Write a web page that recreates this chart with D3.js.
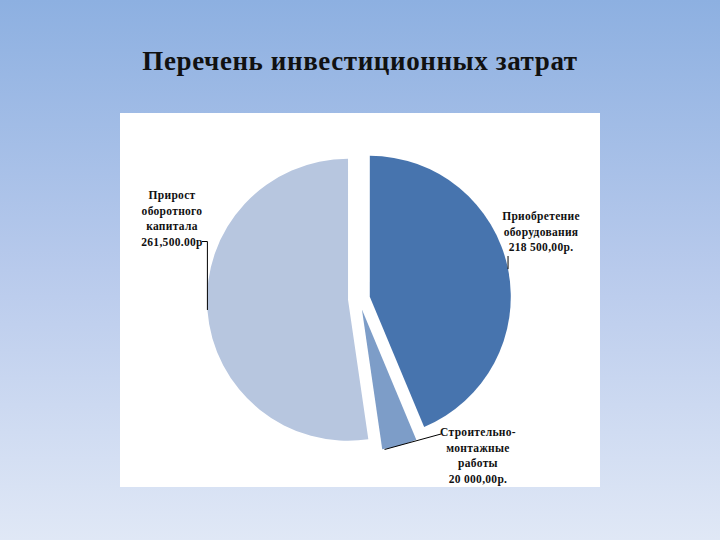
<!DOCTYPE html>
<html>
<head>
<meta charset="utf-8">
<script src="https://cdn.jsdelivr.net/npm/d3@7/dist/d3.min.js"></script>
<style>
  html, body { margin: 0; padding: 0; }
  body { width: 720px; height: 540px; overflow: hidden; }
  text { font-family: "Liberation Serif", "DejaVu Serif", serif; }
</style>
</head>
<body>
<script>
// data
const categories = ["Приобретение оборудования", "Строительно-монтажные работы", "Прирост оборотного капитала"]
const values = [218500, 20000, 261500]
const labelLines = [
    ["Приобретение", "оборудования", "218 500,00р."],
    ["Строительно-", "монтажные", "работы", "20 000,00р."],
    ["Прирост", "оборотного", "капитала", "261,500.00р"]
]
const colors = ["#4774ae", "#7d9dc8", "#b7c6df"]

const width = 720
const height = 540
const cx = 359
const cy = 299
const radius = 141
const explode = 11

const svg = d3.select("body")
    .append("svg")
    .attr("width", width)
    .attr("height", height)

const defs = svg.append("defs")
const grad = defs.append("linearGradient")
    .attr("id", "bg")
    .attr("x1", 0).attr("y1", 0).attr("x2", 0).attr("y2", 1)
grad.append("stop").attr("offset", "0%").attr("stop-color", "#8db0e1")
grad.append("stop").attr("offset", "50%").attr("stop-color", "#b8caec")
grad.append("stop").attr("offset", "100%").attr("stop-color", "#e0e8f6")

svg.append("rect")
    .attr("width", width)
    .attr("height", height)
    .attr("fill", "url(#bg)")

svg.append("text")
    .attr("x", 360)
    .attr("y", 70)
    .attr("text-anchor", "middle")
    .attr("font-size", 27)
    .attr("font-weight", "bold")
    .attr("letter-spacing", 0.6)
    .attr("fill", "#111")
    .text("Перечень инвестиционных затрат")

// white plot area
svg.append("rect")
    .attr("x", 120)
    .attr("y", 113)
    .attr("width", 480)
    .attr("height", 374)
    .attr("fill", "#ffffff")

const pie = d3.pie().sort(null).value(d => d)
const arcs = pie(values)
const arc = d3.arc().innerRadius(0).outerRadius(radius)

function offset(d, r) {
    const a = (d.startAngle + d.endAngle) / 2
    return [Math.sin(a) * r, -Math.cos(a) * r]
}

const g = svg.append("g").attr("transform", `translate(${cx},${cy})`)

g.selectAll("path")
    .data(arcs)
    .enter()
    .append("path")
    .attr("d", arc)
    .attr("fill", (d, i) => colors[i])
    .attr("transform", d => {
        const o = offset(d, explode)
        return `translate(${o[0]},${o[1]})`
    })

// label positions (center x, first baseline y)
const labelPos = [[541, 220], [478, 436], [172, 199]]
const lineH = 15.5

arcs.forEach((d, i) => {
    const o = offset(d, explode)
    const e = offset(d, radius)
    const px = cx + o[0] + e[0]
    const py = cy + o[1] + e[1]
    const [lx, ly] = labelPos[i]
    const n = labelLines[i].length
    let pts
    if (i === 0) {
        pts = [[px, py], [px, ly + (n - 1) * lineH + 5]]
    } else if (i === 1) {
        pts = [[px - 15, py + 4], [lx - 37, ly - 2]]
    } else {
        pts = [[px, py], [px, ly + (n - 1) * lineH - 4], [lx + 30, ly + (n - 1) * lineH - 4]]
    }
    svg.append("path")
        .attr("d", d3.line()(pts))
        .attr("fill", "none")
        .attr("stroke", "#000")
        .attr("stroke-width", 1)

    const t = svg.append("text")
        .attr("text-anchor", "middle")
        .attr("font-size", 11.5)
        .attr("font-weight", "bold")
        .attr("letter-spacing", 0.3)
        .attr("fill", "#111")
    labelLines[i].forEach((s, k) => {
        t.append("tspan")
            .attr("x", lx)
            .attr("y", ly + k * lineH)
            .text(s)
    })
})
</script>
</body>
</html>
